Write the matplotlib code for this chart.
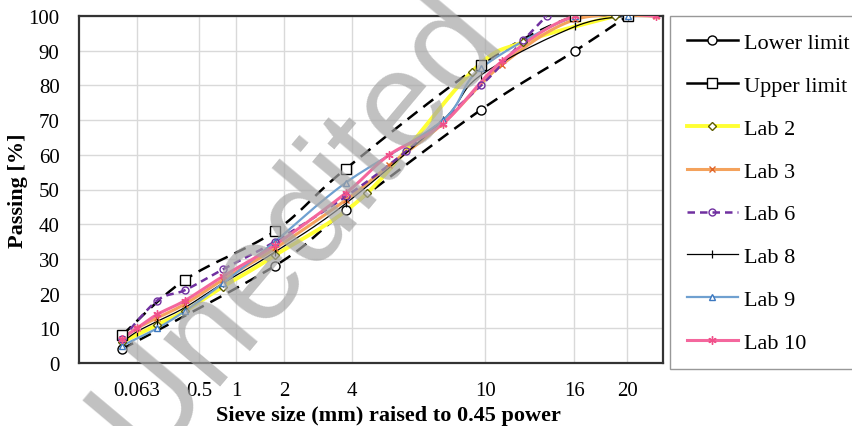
"""
Gradation curves of the labs, sieve size raised to 0.45 power
"""

import matplotlib
matplotlib.use("Agg")
import numpy as np
import matplotlib.pyplot as plt
from matplotlib.lines import Line2D

plt.rcParams["font.family"] = ["Liberation Serif", "DejaVu Serif"]

# sieve sizes (mm) and passing (%)
lower_size = [0.063, 2, 4, 10, 16, 20]
lower_pass = [4, 28, 44, 73, 90, 100]
upper_size = [0.063, 0.5, 2, 4, 10, 16, 20]
upper_pass = [8, 24, 38, 56, 86, 100, 100]

lab2_size = [0.063, 0.25, 0.5, 1, 2, 4.75, 9.5, 12.5, 19]
lab2_pass = [6, 11, 15, 22, 31, 49, 84, 92.5, 100]
lab3_size = [0.063, 0.125, 0.25, 0.5, 1, 2, 4, 5.6, 8, 11.2, 16, 22.4]
lab3_pass = [7, 10, 13, 17, 24, 33, 47, 57, 69, 86, 99, 100]
lab6_size = [0.063, 0.25, 0.5, 1, 2, 4, 6.3, 10, 12.5, 14]
lab6_pass = [7, 18, 21, 27, 35, 48, 61, 80, 93, 100]
lab8_size = [0.063, 0.125, 0.25, 0.5, 1, 2, 4, 8, 10, 16, 20]
lab8_pass = [6, 9, 12, 16, 23, 32, 46, 70, 83, 97, 100]
lab9_size = [0.063, 0.25, 0.5, 1, 2, 4, 8, 10, 16, 20]
lab9_pass = [5, 10, 15, 23, 35, 52, 70, 85, 100, 100]
lab10_size = [0.063, 0.125, 0.25, 0.5, 1, 2, 4, 5.6, 8, 11.2, 16, 22.4]
lab10_pass = [7, 10, 14, 18, 25, 34, 49, 60, 69, 87, 100, 100]

# tick labels and where they sit on the 0.45-power axis
tick_labels = ["0.063", "0.5", "1", "2", "4", "10", "16", "20"]
tick_pos = [0.393, 0.830, 1.091, 1.430, 1.909, 2.847, 3.475, 3.849]


def p45(sizes):
    return np.array(sizes) ** 0.45


def smooth_line(x, y, n=16):
    """Excel-like smoothed line (bezier through the points)"""
    pts = np.column_stack([x, y]).astype(float)
    ext = np.vstack([pts[0], pts, pts[-1]])
    t = np.linspace(0, 1, n)[:, None]
    out = [pts[:1]]
    for i in range(1, len(ext) - 2):
        p0, p1, p2, p3 = ext[i - 1], ext[i], ext[i + 1], ext[i + 2]
        c1 = p1 + (p2 - p0) / 6
        c2 = p2 - (p3 - p1) / 6
        seg = ((1 - t) ** 3) * p1 + 3 * ((1 - t) ** 2) * t * c1 + 3 * (1 - t) * t ** 2 * c2 + t ** 3 * p2
        out.append(seg[1:])
    out = np.vstack(out)
    return out[:, 0], out[:, 1]


fig = plt.figure(figsize=(8.52, 4.27), dpi=100)
ax = fig.add_axes([79 / 852, 1 - 364 / 427, (663 - 79) / 852, (364 - 17) / 427])

asterisk = (6, 2, 0)
series = [
    (lower_size, lower_pass, "Lower limit",
     dict(color="black", lw=1.8, ls=(0, (5, 3))),
     dict(marker="o", ms=6.5, mfc="white", mec="black", mew=1.0)),
    (upper_size, upper_pass, "Upper limit",
     dict(color="black", lw=1.8, ls=(0, (5, 3))),
     dict(marker="s", ms=6.5, mfc="white", mec="black", mew=1.0)),
    (lab2_size, lab2_pass, "Lab 2",
     dict(color="#FFFF33", lw=2.8, ls="-"),
     dict(marker="D", ms=4, mfc="white", mec="#5C5C00", mew=1.0)),
    (lab3_size, lab3_pass, "Lab 3",
     dict(color="#F4A25C", lw=2.2, ls="-"),
     dict(marker="x", ms=5, mec="#E0662A", mew=1.0)),
    (lab6_size, lab6_pass, "Lab 6",
     dict(color="#7030A0", lw=1.8, ls=(0, (3, 2))),
     dict(marker="o", ms=5, mfc="none", mec="#7030A0", mew=1.0)),
    (lab8_size, lab8_pass, "Lab 8",
     dict(color="black", lw=0.9, ls="-"),
     dict(marker="|", ms=6, mec="black", mew=0.9)),
    (lab9_size, lab9_pass, "Lab 9",
     dict(color="#6FA0D0", lw=1.6, ls="-"),
     dict(marker="^", ms=5, mfc="white", mec="#3C78C0", mew=1.0)),
    (lab10_size, lab10_pass, "Lab 10",
     dict(color="#F4679D", lw=2.2, ls="-"),
     dict(marker=asterisk, ms=6, mec="#F0508A", mew=1.0)),
]

handles = []
for size, passing, label, lstyle, mstyle in series:
    xs, ys = smooth_line(p45(size), passing)
    ax.plot(xs, ys, zorder=3, **lstyle)
    ax.plot(p45(size), passing, ls="none", color=lstyle["color"], zorder=4, **mstyle)
    hstyle = dict(lstyle)
    if label in ("Lower limit", "Upper limit"):
        hstyle["ls"] = "-"
    handles.append(Line2D([], [], label=label, **hstyle, **mstyle))

ax.set_xlim(-0.015, 4.10)
ax.set_ylim(0, 100)
ax.set_xticks(tick_pos)
ax.set_xticklabels(tick_labels)
ax.set_yticks(np.arange(0, 101, 10))
ax.tick_params(axis="both", length=0, labelsize=15)
ax.tick_params(axis="x", pad=13)
ax.tick_params(axis="y", pad=14)
ax.grid(True, color="#D9D9D9", lw=1.0)
ax.set_axisbelow(True)
for s in ax.spines.values():
    s.set_color("#333333")
    s.set_linewidth(1.6)

ax.set_xlabel("Sieve size (mm) raised to 0.45 power", fontsize=16, fontweight="bold", labelpad=0)
ax.xaxis.set_label_coords(0.53, -0.12)
ax.set_ylabel("Passing [%]", fontsize=16, fontweight="bold", labelpad=0)

leg = fig.legend(
    handles=handles,
    loc="upper left",
    bbox_to_anchor=(670 / 852, 1 - 17 / 427),
    borderaxespad=0,
    fontsize=16,
    frameon=True,
    fancybox=False,
    handlelength=2.3,
    handletextpad=0.3,
    labelspacing=1.0,
    borderpad=0.75,
)
for t in leg.get_texts():
    t.set_fontfamily("Liberation Serif")
leg.get_frame().set_edgecolor("#7F7F7F")
leg.get_frame().set_linewidth(1.0)

# watermark
fig.text(150 / 852, 1 - 470 / 427, "Unedited Version", rotation=50, rotation_mode="anchor",
         ha="left", va="baseline", fontsize=100, fontfamily="Liberation Sans",
         color="#A6A6A6", alpha=0.7, zorder=10)

fig.savefig("out.png", dpi=100)
